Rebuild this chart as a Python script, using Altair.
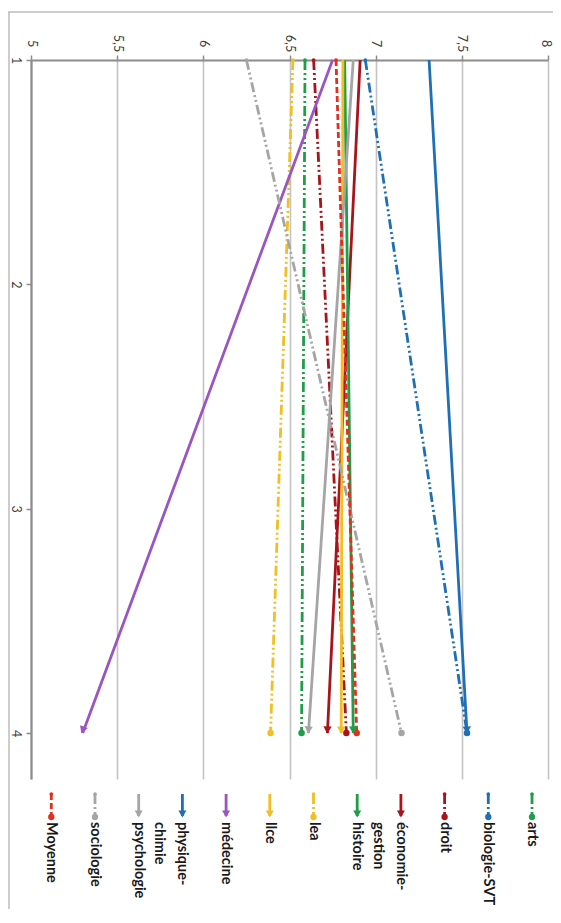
import altair as alt
import pandas as pd

# ---------------- data ----------------
series = ["arts", "biologie-SVT", "droit", "économie-gestion", "histoire", "lea",
          "llce", "médecine", "physique-chimie", "psychologie", "sociologie", "Moyenne"]
start_values = [6.59, 6.94, 6.64, 6.91, 6.82, 6.52, 6.81, 6.75, 7.31, 6.87, 6.25, 6.77]
end_values = [6.57, 7.53, 6.83, 6.72, 6.87, 6.39, 6.80, 5.30, 7.53, 6.61, 7.15, 6.89]
start_category = 1
end_category = 4
styles = ["ddd", "ddd", "ddd", "solid", "solid", "ddd", "solid", "solid", "solid", "solid", "ddd", "dash"]
colors = ["#1E9E48", "#1F6FB5", "#A8141B", "#A8141B", "#1E9E48", "#F2BE22",
          "#F2BE22", "#9B55C0", "#1F6FB5", "#A5A5A5", "#A5A5A5", "#E0301E"]
legend_lines = [["arts"], ["biologie-SVT"], ["droit"], ["économie-", "gestion"], ["histoire"],
                ["lea"], ["llce"], ["médecine"], ["physique-", "chimie"], ["psychologie"],
                ["sociologie"], ["Moyenne"]]
value_ticks = [5, 5.5, 6, 6.5, 7, 7.5, 8]
category_ticks = [1, 2, 3, 4]

# ---------------- layout ----------------
W, H = 517, 719
XMIN, XMAX = 5, 8
YMIN, YMAX = 1, 4.205
PXX = W / (XMAX - XMIN)
PXY = H / (YMAX - YMIN)
dash_map = {"ddd": [10, 3, 2, 3, 2, 3], "solid": [1, 0], "dash": [6, 3]}
dashes = [dash_map[s] for s in styles]

rows = []
for s, a, b in zip(series, start_values, end_values):
    rows.append({"series": s, "cat": start_category, "value": a})
    rows.append({"series": s, "cat": end_category, "value": b})
lines_df = pd.DataFrame(rows)

ends_df = pd.DataFrame({"series": series, "start": start_values, "end": end_values,
                        "style": styles})

leg_rows = []
for i, (s, ls) in enumerate(zip(series, legend_lines)):
    for j, t in enumerate(ls):
        leg_rows.append({"series": s, "i": i, "line": j, "text": t, "style": styles[i]})
leg_text_df = pd.DataFrame(leg_rows)
leg_df = pd.DataFrame({"series": series, "i": list(range(len(series))), "style": styles})

color_scale = alt.Scale(domain=series, range=colors)
xs = alt.Scale(domain=[XMIN, XMAX], nice=False, zero=False)
ys = alt.Scale(domain=[YMIN, YMAX], nice=False, zero=False, reverse=True)

FONT = "Lato"

x_axis = alt.Axis(orient="top", values=value_ticks, grid=True, gridColor="#C4C4C4",
                  gridWidth=1.6, domainColor="#8C8C8C", domainWidth=2.2,
                  tickColor="#8C8C8C", tickSize=5, tickWidth=1.5,
                  labelAngle=90, labelAlign="center", labelBaseline="middle",
                  labelOffset=alt.condition(f"datum.value == {XMAX}", alt.value(-3), alt.value(0)),
                  labelPadding=12, labelFont=FONT, labelFontSize=12.5,
                  labelColor="#404040",
                  labelExpr="replace(format(datum.value, '~g'), '.', ',')", title=None)
y_axis = alt.Axis(orient="left", values=category_ticks, grid=False,
                  domainColor="#8C8C8C", domainWidth=2.2, tickColor="#8C8C8C",
                  tickSize=5, tickWidth=1.5, labelAngle=90, labelAlign="center",
                  labelBaseline="middle", labelPadding=11, labelFont=FONT,
                  labelFontSize=12.5, labelColor="#404040", title=None)

lines = alt.Chart(lines_df).mark_line(strokeWidth=2.8, strokeCap="butt").encode(
    x=alt.X("value:Q", scale=xs, axis=x_axis),
    y=alt.Y("cat:Q", scale=ys, axis=y_axis),
    color=alt.Color("series:N", scale=color_scale, legend=None),
    strokeDash=alt.StrokeDash("series:N", scale=alt.Scale(domain=series, range=dashes), legend=None),
    order=alt.Order("cat:Q"),
)

circ_base = alt.Chart(ends_df).transform_filter("datum.style != 'solid'")
start_dots = circ_base.transform_calculate(sc=str(start_category)).mark_point(
    shape="circle", filled=True, size=14, opacity=1).encode(
    x=alt.X("start:Q", scale=xs, axis=x_axis),
    y=alt.Y("sc:Q", scale=ys, axis=y_axis),
    color=alt.Color("series:N", scale=color_scale, legend=None),
)
end_dots = circ_base.transform_calculate(ec=str(end_category)).mark_point(
    shape="circle", filled=True, size=42, opacity=1).encode(
    x=alt.X("end:Q", scale=xs, axis=x_axis),
    y=alt.Y("ec:Q", scale=ys, axis=y_axis),
    color=alt.Color("series:N", scale=color_scale, legend=None),
)

arrows = alt.Chart(ends_df).transform_filter("datum.style == 'solid'").transform_calculate(
    ec=str(end_category),
    ang=f"(360 + atan2(-(datum.end - datum.start) * {PXX}, {(end_category - start_category) * PXY}) * 180 / PI) % 360",
).mark_point(shape="triangle-down", filled=True, size=70, opacity=1, yOffset=-3).encode(
    x=alt.X("end:Q", scale=xs, axis=x_axis),
    y=alt.Y("ec:Q", scale=ys, axis=y_axis),
    angle=alt.Angle("ang:Q", scale=None),
    color=alt.Color("series:N", scale=color_scale, legend=None),
)

data_layers = alt.layer(lines, start_dots, end_dots, arrows)

# ---------------- custom rotated legend ----------------
LX0, LSTEP, LLINE = 501, 43.7, 23
leg = alt.Chart(leg_df).transform_calculate(lx=f"{LX0} - {LSTEP} * datum.i")
leg_rules = leg.mark_rule(strokeWidth=2.8).encode(
    x=alt.X("lx:Q", scale=None, axis=None),
    y=alt.value(734), y2=alt.value(756),
    color=alt.Color("series:N", scale=color_scale, legend=None),
    strokeDash=alt.StrokeDash("series:N", scale=alt.Scale(domain=series, range=dashes), legend=None),
)
leg_top = leg.transform_filter("datum.style != 'solid'").mark_point(
    shape="circle", filled=True, size=14, opacity=1).encode(
    x=alt.X("lx:Q", scale=None, axis=None), y=alt.value(734),
    color=alt.Color("series:N", scale=color_scale, legend=None))
leg_bot = leg.transform_filter("datum.style != 'solid'").mark_point(
    shape="circle", filled=True, size=40, opacity=1).encode(
    x=alt.X("lx:Q", scale=None, axis=None), y=alt.value(757),
    color=alt.Color("series:N", scale=color_scale, legend=None))
leg_arr = leg.transform_filter("datum.style == 'solid'").mark_point(
    shape="triangle-down", filled=True, size=65, opacity=1).encode(
    x=alt.X("lx:Q", scale=None, axis=None), y=alt.value(754),
    color=alt.Color("series:N", scale=color_scale, legend=None))
leg_text = alt.Chart(leg_text_df).transform_calculate(
    lx=f"{LX0} - {LSTEP} * datum.i - {LLINE} * datum.line"
).mark_text(angle=90, align="left", baseline="middle", font=FONT, fontSize=14.5,
            fontWeight="bold", color="#1A1A1A").encode(
    x=alt.X("lx:Q", scale=None, axis=None), y=alt.value(762), text="text:N")

frame = alt.layer(
    alt.Chart(alt.Data(values=[{}])).mark_rule(color="#BDBDBD", strokeWidth=1.5).encode(
        x=alt.value(-23), x2=alt.value(530), y=alt.value(-48)),
    alt.Chart(alt.Data(values=[{}])).mark_rule(color="#BDBDBD", strokeWidth=1.5).encode(
        x=alt.value(-22), y=alt.value(-48), y2=alt.value(860)),
)

legend_layers = alt.layer(leg_rules, leg_top, leg_bot, leg_arr, leg_text)

chart = alt.layer(frame, data_layers, legend_layers).resolve_scale(
    x="independent", y="independent", color="shared", strokeDash="shared"
).properties(
    width=W, height=H,
    background="white",
    autosize=alt.AutoSizeParams(type="none"),
    padding={"left": 23, "top": 52, "right": 5, "bottom": 130},
).configure_view(stroke=None)

chart.save("out.html", embed_options={"renderer": "svg", "actions": False})
